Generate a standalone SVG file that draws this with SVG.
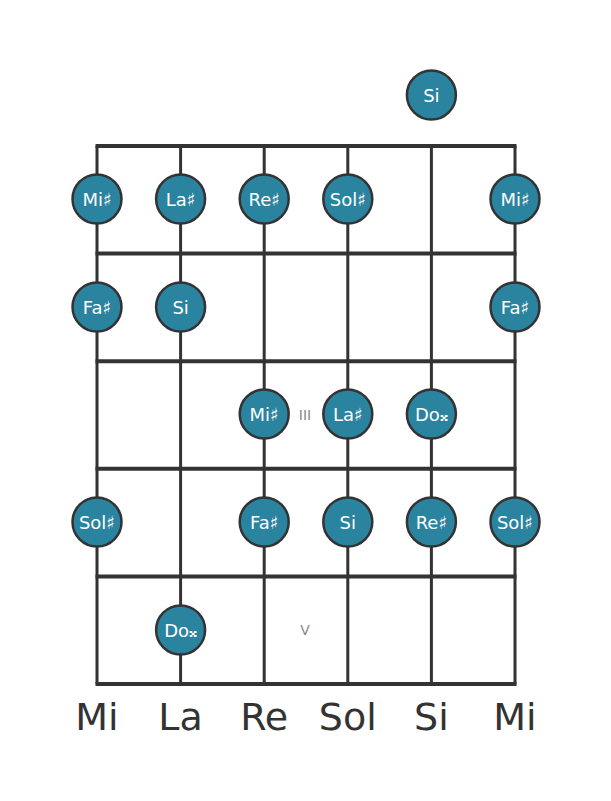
<svg xmlns="http://www.w3.org/2000/svg" width="611" height="801" viewBox="0 0 611 801">
<style>
.str{stroke:#333;stroke-width:3;fill:none}
.fret{stroke:#333;stroke-width:4;fill:none}
.note circle{fill:#2a839f;stroke:#333;stroke-width:2.5}
.note text{fill:#fff;font-family:"DejaVu Sans",sans-serif;font-size:18px;text-anchor:middle;dominant-baseline:central}
.lbl{fill:#333;font-family:"DejaVu Sans",sans-serif;font-size:38px;text-anchor:middle}
.pos{fill:#888;font-family:"DejaVu Sans",sans-serif;font-size:14px;text-anchor:middle;dominant-baseline:central}
</style>
<rect width="611" height="801" fill="#fff"/>
<g id="connectors">
<line class="str" x1="97" y1="146" x2="97" y2="684"/>
<line class="str" x1="180.6" y1="146" x2="180.6" y2="684"/>
<line class="str" x1="264.2" y1="146" x2="264.2" y2="684"/>
<line class="str" x1="347.8" y1="146" x2="347.8" y2="684"/>
<line class="str" x1="431.4" y1="146" x2="431.4" y2="684"/>
<line class="str" x1="515" y1="146" x2="515" y2="684"/>
<line class="fret" x1="95.5" y1="146" x2="516.5" y2="146" stroke-width="5"/>
<line class="fret" x1="95.5" y1="253.6" x2="516.5" y2="253.6"/>
<line class="fret" x1="95.5" y1="361.2" x2="516.5" y2="361.2"/>
<line class="fret" x1="95.5" y1="468.8" x2="516.5" y2="468.8"/>
<line class="fret" x1="95.5" y1="576.4" x2="516.5" y2="576.4"/>
<line class="fret" x1="95.5" y1="684" x2="516.5" y2="684"/>
</g>
<text class="pos" x="305" y="415">III</text>
<text class="pos" x="305" y="630">V</text>
<g id="n-si-open" class="note"><circle cx="431.4" cy="95" r="24.5"/><text x="431.4" y="95">Si</text></g>
<g id="n1-1" class="note"><circle cx="97" cy="199" r="24.5"/><text x="97" y="199">Mi♯</text></g>
<g id="n1-2" class="note"><circle cx="180.6" cy="199" r="24.5"/><text x="180.6" y="199">La♯</text></g>
<g id="n1-3" class="note"><circle cx="264.2" cy="199" r="24.5"/><text x="264.2" y="199">Re♯</text></g>
<g id="n1-4" class="note"><circle cx="347.8" cy="199" r="24.5"/><text x="347.8" y="199">Sol♯</text></g>
<g id="n1-6" class="note"><circle cx="515" cy="199" r="24.5"/><text x="515" y="199">Mi♯</text></g>
<g id="n2-1" class="note"><circle cx="97" cy="307" r="24.5"/><text x="97" y="307">Fa♯</text></g>
<g id="n2-2" class="note"><circle cx="180.6" cy="307" r="24.5"/><text x="180.6" y="307">Si</text></g>
<g id="n2-6" class="note"><circle cx="515" cy="307" r="24.5"/><text x="515" y="307">Fa♯</text></g>
<g id="n3-3" class="note"><circle cx="264.2" cy="414" r="24.5"/><text x="264.2" y="414">Mi♯</text></g>
<g id="n3-4" class="note"><circle cx="347.8" cy="414" r="24.5"/><text x="347.8" y="414">La♯</text></g>
<g id="n3-5" class="note"><circle cx="431.4" cy="414" r="24.5"/><text x="431.4" y="414">Do𝄪</text></g>
<g id="n4-1" class="note"><circle cx="97" cy="522" r="24.5"/><text x="97" y="522">Sol♯</text></g>
<g id="n4-3" class="note"><circle cx="264.2" cy="522" r="24.5"/><text x="264.2" y="522">Fa♯</text></g>
<g id="n4-4" class="note"><circle cx="347.8" cy="522" r="24.5"/><text x="347.8" y="522">Si</text></g>
<g id="n4-5" class="note"><circle cx="431.4" cy="522" r="24.5"/><text x="431.4" y="522">Re♯</text></g>
<g id="n4-6" class="note"><circle cx="515" cy="522" r="24.5"/><text x="515" y="522">Sol♯</text></g>
<g id="n5-2" class="note"><circle cx="180.6" cy="630" r="24.5"/><text x="180.6" y="630">Do𝄪</text></g>
<g id="labels">
<text class="lbl" x="97" y="730">Mi</text>
<text class="lbl" x="180.6" y="730">La</text>
<text class="lbl" x="264.2" y="730">Re</text>
<text class="lbl" x="347.8" y="730">Sol</text>
<text class="lbl" x="431.4" y="730">Si</text>
<text class="lbl" x="515" y="730">Mi</text>
</g>
</svg>
